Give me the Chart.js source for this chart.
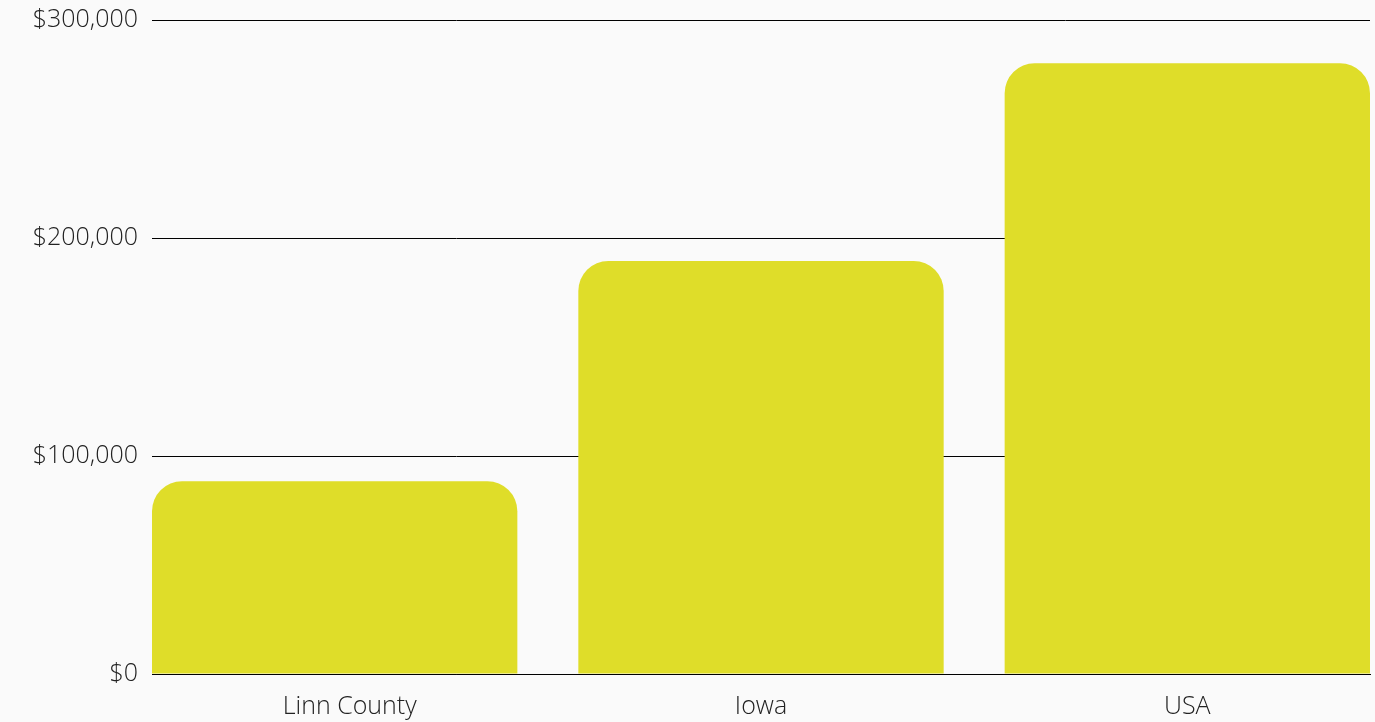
<!DOCTYPE html>
<html>
<head>
<meta charset="utf-8">
<script src="https://cdn.jsdelivr.net/npm/chart.js@4"></script>
<style>
  html, body { margin: 0; padding: 0; background: #fafafa; }
  .wrap { width: 1375px; height: 722px; position: relative; }
</style>
</head>
<body>
<div class="wrap"><canvas id="myChart"></canvas></div>
<script>
const categories = ['Linn County', 'Iowa', 'USA'];
const values = [88500, 189500, 280300];
const tickValues = [0, 100000, 200000, 300000];

const ctx = document.getElementById('myChart').getContext('2d');
const font = { family: "'Open Sans', sans-serif", size: 25, weight: 300 };

// bars sit flush with both ends of the plot, so use a numeric x axis
const barShare = 0.857;
const edge = barShare / 2;

// first category label sits a bit right of its bar centre in the original
const nudgeFirstLabel = {
  id: 'nudgeFirstLabel',
  beforeDraw(chart) {
    const items = chart.scales.x.getLabelItems();
    if (items.length && !items[0]._nudged) {
      items[0].options.translation[0] += 15;
      items[0]._nudged = true;
    }
  }
};

const data = {
  datasets: [{
    data: categories.map((c, i) => ({ x: i, y: values[i] })),
    backgroundColor: '#dfdd29',
    borderRadius: { topLeft: 30, topRight: 30 },
    borderSkipped: false,
    barPercentage: barShare,
    categoryPercentage: 1
  }]
};

const config = {
  type: 'bar',
  data: data,
  plugins: [nudgeFirstLabel],
  options: {
    responsive: true,
    maintainAspectRatio: false,
    animation: false,
    layout: { padding: { top: 0, right: 5, left: 0, bottom: 0 } },
    plugins: { legend: { display: false }, tooltip: { enabled: false } },
    scales: {
      x: {
        type: 'linear',
        min: -edge,
        max: categories.length - 1 + edge,
        offset: false,
        grid: { display: false },
        border: { display: true, color: '#000', width: 1 },
        afterBuildTicks: (s) => { s.ticks = categories.map((c, i) => ({ value: i })); },
        ticks: {
          color: '#222',
          font: font,
          padding: 10,
          autoSkip: false,
          maxRotation: 0,
          callback: (v) => categories[v]
        },
        afterFit: (s) => { s.height = 48; }
      },
      y: {
        min: 0,
        max: 300000,
        afterBuildTicks: (s) => { s.ticks = tickValues.map(v => ({ value: v })); },
        grid: { color: '#000', lineWidth: 1, drawTicks: false },
        border: { display: false },
        ticks: {
          color: '#222',
          font: { ...font, lineHeight: 0.5 },
          padding: 14,
          callback: (v) => '$' + v.toLocaleString('en-US')
        },
        afterFit: (s) => { s.width = 152; }
      }
    }
  }
};

const myChart = new Chart(ctx, config);
</script>
</body>
</html>
